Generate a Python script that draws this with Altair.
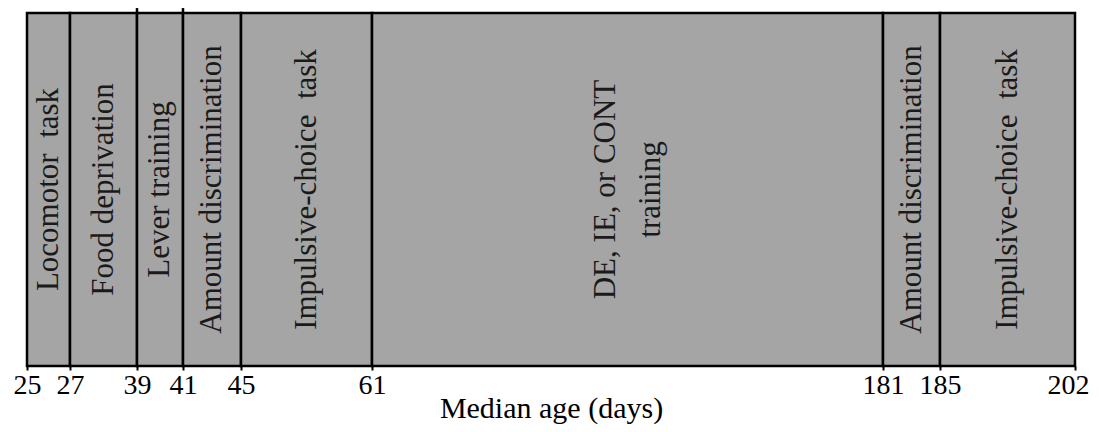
import altair as alt
import pandas as pd

# Stage boundaries (median age, days)
starts = [25, 27, 39, 41, 45, 61, 181, 185]
ends = [27, 39, 41, 45, 61, 181, 185, 202]
labels = [
    ["Locomotor\u00a0 task"],
    ["Food deprivation"],
    ["Lever training"],
    ["Amount discrimination"],
    ["Impulsive-choice\u00a0 task"],
    ["DE, IE, or CONT", "training"],
    ["Amount discrimination"],
    ["Impulsive-choice\u00a0 task"],
]
tick_values = [25, 27, 39, 41, 45, 61, 181, 185, 202]
# pixel positions of the breakpoints on the (non-uniform) age axis
tick_pixels = [0, 43, 110, 156, 214, 345, 856, 913, 1048]
# boundaries whose divider pokes above the frame
overshoot = [39, 41]

df = pd.DataFrame({
    "start": starts,
    "end": ends,
    "mid": [(s + e) / 2 for s, e in zip(starts, ends)],
    "label": labels,
    "nlines": [len(l) for l in labels],
})
df_over = pd.DataFrame({"age": overshoot})

FONT = "Liberation Serif"

xscale = alt.Scale(domain=tick_values, range=tick_pixels)

base = alt.Chart(df)

rects = base.mark_rect(fill="#a5a5a5", stroke="black", strokeWidth=2.5).encode(
    x=alt.X(
        "start:Q",
        scale=xscale,
        axis=alt.Axis(
            values=tick_values,
            title="Median age (days)",
            labelFont=FONT,
            labelFontSize=28,
            labelColor="black",
            labelPadding=1,
            labelFlush=True,
            labelFlushOffset=14,
            labelOverlap=False,
            tickColor="black",
            tickSize=4,
            tickWidth=2,
            domain=False,
            grid=False,
            titleFont=FONT,
            titleFontSize=30,
            titleFontWeight="normal",
            titleColor="black",
            titleBaseline="alphabetic",
            titleY=51,
        ),
    ),
    x2="end:Q",
)

over = alt.Chart(df_over).mark_rule(color="black", strokeWidth=2.5).encode(
    x=alt.X("age:Q", scale=xscale),
    y=alt.Y(datum=1.0, scale=alt.Scale(domain=[0, 1]), axis=None),
    y2=alt.Y2(datum=1.014),
)

text_style = dict(
    font=FONT, fontSize=31, angle=270, align="center", baseline="middle",
    color="#1a1a1a", lineHeight=45,
)

texts1 = base.mark_text(**text_style).encode(
    x=alt.X("mid:Q", scale=xscale),
    text="label",
).transform_filter(alt.datum.nlines == 1)

texts2 = base.mark_text(dy=-22, **text_style).encode(
    x=alt.X("mid:Q", scale=xscale),
    text="label",
).transform_filter(alt.datum.nlines == 2)

chart = alt.layer(rects, over, texts1, texts2).properties(
    width=1048,
    height=353,
    padding={"left": 19, "top": 5, "right": 16, "bottom": 58},
    autosize=alt.AutoSizeParams(type="none"),
).configure_view(stroke=None)

chart.save("out.html", embed_options={"renderer": "svg", "actions": False})
